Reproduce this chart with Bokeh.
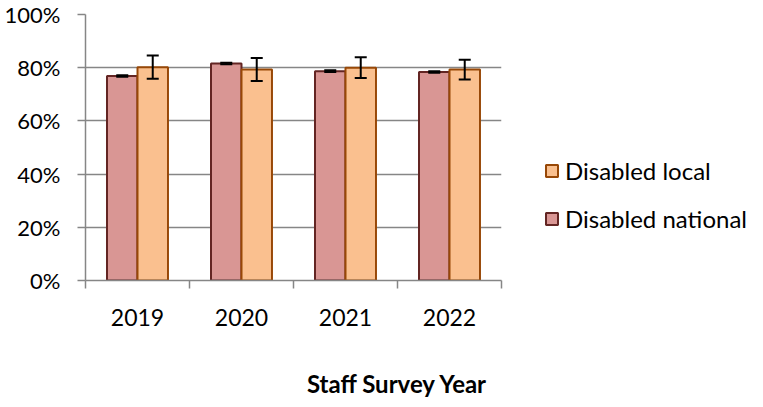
from bokeh.plotting import figure
from bokeh.models import (ColumnDataSource, FixedTicker, Range1d, Legend, LegendItem,
                          Whisker, TeeHead, LinearAxis)
from bokeh.embed import file_html
from bokeh.resources import INLINE

# ---- data ----
years = ["2019", "2020", "2021", "2022"]
national = [76.9, 81.6, 78.7, 78.4]
national_err = [0.3, 0.3, 0.3, 0.3]
local = [80.2, 79.3, 80.0, 79.3]
local_err = [4.4, 4.3, 3.9, 3.7]
y_ticks = [0, 20, 40, 60, 80, 100]
y_tick_labels = ["0%", "20%", "40%", "60%", "80%", "100%"]
series_names = ["Disabled national", "Disabled local"]
x_title = "Staff Survey Year"

# ---- style ----
FONT = "Lato"
GRAY = "#868686"
NAT_FILL, NAT_LINE = "#D99694", "#632523"
LOC_FILL, LOC_LINE = "#FAC08F", "#984807"
BAR_W = 0.293
OFF = BAR_W / 2

centers = [i + 0.5 for i in range(len(years))]
src = ColumnDataSource(dict(
    xn=[c - OFF for c in centers],
    xl=[c + OFF for c in centers],
    national=national,
    nat_hi=[v + e for v, e in zip(national, national_err)],
    nat_lo=[v - e for v, e in zip(national, national_err)],
    local=local,
    loc_hi=[v + e for v, e in zip(local, local_err)],
    loc_lo=[v - e for v, e in zip(local, local_err)],
))

p = figure(frame_width=416, frame_height=266,
           min_border_left=85, min_border_right=246,
           min_border_top=14, min_border_bottom=100,
           x_range=Range1d(0, len(years)), y_range=Range1d(0, 100),
           output_backend="svg", toolbar_location=None)
p.outline_line_color = None
p.background_fill_color = "white"
p.border_fill_color = "white"

# grid
p.xgrid.visible = False
p.ygrid.ticker = FixedTicker(ticks=y_ticks)
p.ygrid.grid_line_color = GRAY
p.ygrid.grid_line_width = 1.5

# y axis
ya = p.yaxis[0]
ya.ticker = FixedTicker(ticks=y_ticks)
ya.major_label_overrides = {t: l for t, l in zip(y_ticks, y_tick_labels)}
ya.axis_line_color = GRAY
ya.axis_line_width = 1.5
ya.major_tick_line_color = GRAY
ya.major_tick_line_width = 1.5
ya.major_tick_out = 8
ya.major_tick_in = 0
ya.minor_tick_line_color = None
ya.major_label_text_font = FONT
ya.major_label_text_font_size = "22px"
ya.major_label_text_color = "black"
ya.major_label_standoff = 17

# x axis
xa = p.xaxis[0]
xa.ticker = FixedTicker(ticks=centers, minor_ticks=list(range(len(years) + 1)))
xa.major_label_overrides = {c: y for c, y in zip(centers, years)}
xa.axis_line_color = GRAY
xa.axis_line_width = 1.5
xa.major_tick_line_color = None
xa.major_tick_out = 0
xa.major_tick_in = 0
xa.minor_tick_line_color = GRAY
xa.minor_tick_line_width = 1.5
xa.minor_tick_out = 8
xa.minor_tick_in = 0
xa.major_label_text_font = FONT
xa.major_label_text_font_size = "23px"
xa.major_label_text_color = "black"
xa.major_label_standoff = 20

# axis title, placed as a single label on a second bottom axis
title_x = len(years) * 0.75
ta = LinearAxis(ticker=FixedTicker(ticks=[title_x]),
                major_label_overrides={title_x: x_title},
                axis_line_color=None, major_tick_line_color=None,
                minor_tick_line_color=None, major_tick_out=0, major_tick_in=0,
                major_label_standoff=40, major_label_text_font=FONT,
                major_label_text_font_style="bold",
                major_label_text_font_size="24px",
                major_label_text_color="black")
p.add_layout(ta, "below")

# bars
r_nat = p.vbar(x="xn", top="national", bottom=0, width=BAR_W, source=src,
               fill_color=NAT_FILL, line_color=NAT_LINE, line_width=2)
r_loc = p.vbar(x="xl", top="local", bottom=0, width=BAR_W, source=src,
               fill_color=LOC_FILL, line_color=LOC_LINE, line_width=2)

# error bars
for base, hi, lo in (("xn", "nat_hi", "nat_lo"), ("xl", "loc_hi", "loc_lo")):
    w = Whisker(base=base, upper=hi, lower=lo, source=src, dimension="height",
                line_color="black", line_width=2, level="overlay",
                upper_head=TeeHead(size=12, line_color="black", line_width=2),
                lower_head=TeeHead(size=12, line_color="black", line_width=2))
    p.add_layout(w)

# legend (right side panel)
legend = Legend(items=[LegendItem(label=series_names[1], renderers=[r_loc]),
                       LegendItem(label=series_names[0], renderers=[r_nat])],
                location=(43, 47), orientation="vertical",
                glyph_width=15, glyph_height=15, label_height=30,
                label_standoff=6, spacing=18, padding=0, margin=0,
                border_line_color=None, background_fill_alpha=0,
                label_text_font=FONT, label_text_font_size="24px",
                label_text_color="black")
p.add_layout(legend, "right")

open("out.html", "w").write(file_html(p, INLINE))
